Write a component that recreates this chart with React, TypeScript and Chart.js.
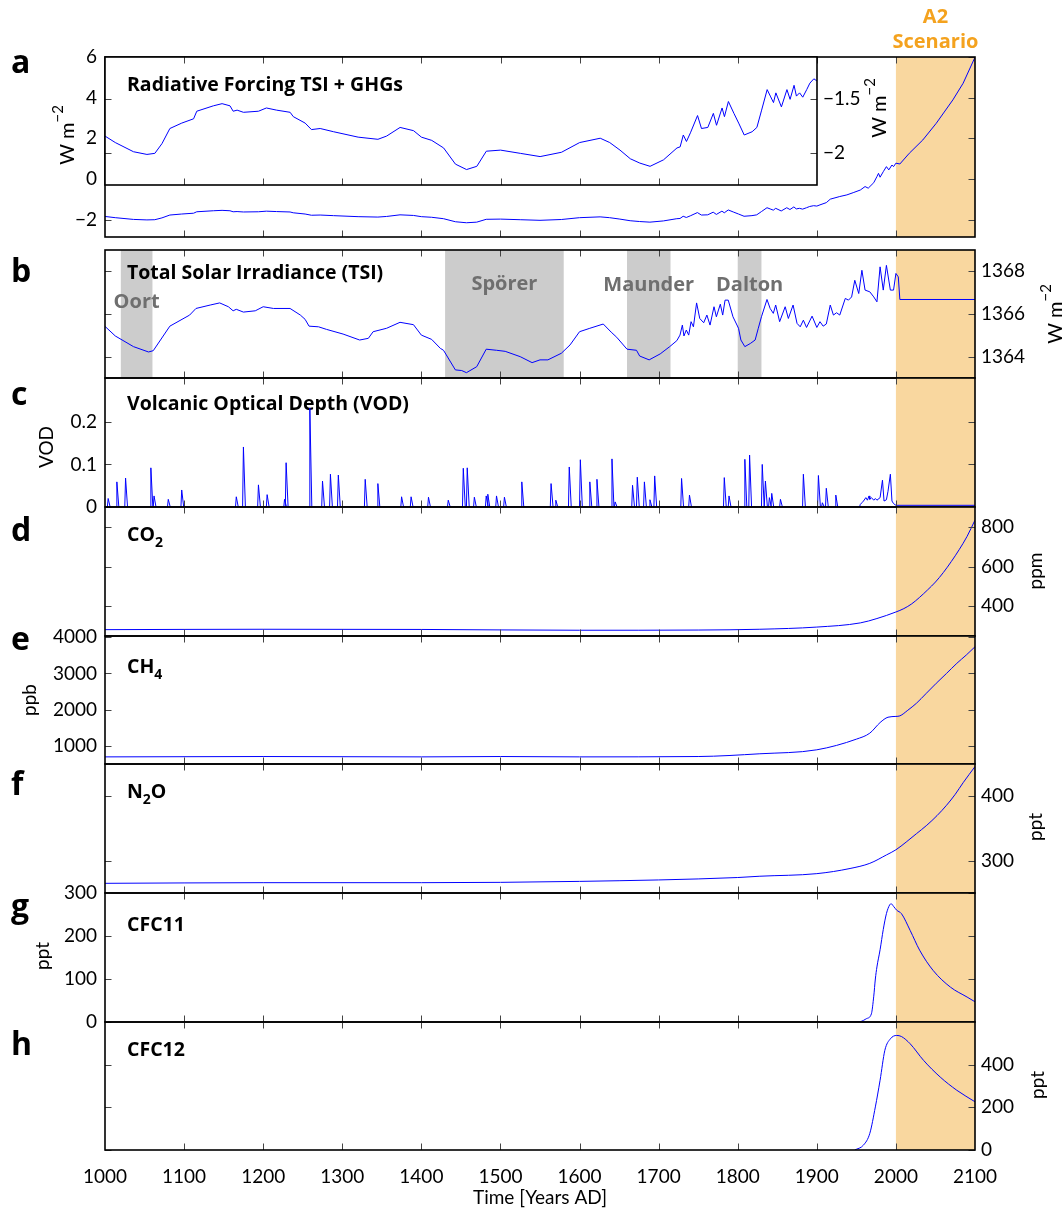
import React, { useEffect, useRef } from 'react';
import { Chart, registerables } from 'chart.js';

Chart.register(...registerables);

const PAGE_W = 1064;
const PAGE_H = 1214;
const FAMILY = 'Lato, "Open Sans", "DejaVu Sans", sans-serif';
const BOLD_FAMILY = '"Open Sans", Lato, "DejaVu Sans", sans-serif';
Chart.defaults.font.family = FAMILY;

// ---------------- axes / categories ----------------
const X_MIN = 1000;
const X_MAX = 2100;
const X_LABEL_YEARS = [1000, 1100, 1200, 1300, 1400, 1500, 1600, 1700, 1800, 1900, 2000, 2100];
const X_INNER_TICKS = [1100, 1200, 1300, 1400, 1500, 1600, 1700, 1800, 1900, 2000];
const INSET_X_MAX = 1900;
const INSET_INNER_TICKS = [1100, 1200, 1300, 1400, 1500, 1600, 1700, 1800];
const SCENARIO_START = 2000;
const SCENARIO_END = 2100;
const SCENARIO_TEXT = ['A2', 'Scenario'];

const MINIMA_NAMES = ['Oort', 'Spörer', 'Maunder', 'Dalton'];
const MINIMA_START = [1020, 1430, 1660, 1800];
const MINIMA_END = [1060, 1580, 1715, 1830];

// ---------------- a: radiative forcing TSI + GHGs (W m-2) ----------------
const forcingYears = [
  1000, 1013, 1036, 1053, 1063, 1072, 1082, 1097, 1112, 1116,
  1137, 1148, 1158, 1162, 1167, 1175, 1194, 1204, 1217, 1234,
  1238, 1253, 1261, 1272, 1289, 1320, 1345, 1356, 1373, 1390,
  1400, 1413, 1428, 1443, 1457, 1470, 1482, 1500, 1525, 1550,
  1577, 1600, 1626, 1638, 1651, 1664, 1676, 1689, 1706, 1723,
  1727, 1731, 1735, 1740, 1749, 1754, 1762, 1769, 1773, 1780,
  1783, 1788, 1795, 1801, 1808, 1818, 1824, 1830, 1837, 1841,
  1845, 1848, 1855, 1862, 1866, 1871, 1874, 1878, 1882, 1887,
  1891, 1896, 1900, 1904, 1912, 1917, 1929, 1938, 1946, 1955,
  1961, 1965, 1972, 1976, 1978, 1980, 1984, 1988, 1991, 1995,
  1997, 2000, 2005, 2017, 2034, 2051, 2072, 2085, 2100,
];
const forcingValues = [
  -1.84, -1.9, -1.985, -2.01, -2.0, -1.91, -1.77, -1.72, -1.68, -1.61,
  -1.56, -1.54, -1.56, -1.61, -1.6, -1.62, -1.61, -1.58, -1.6, -1.62,
  -1.66, -1.72, -1.78, -1.77, -1.8, -1.85, -1.87, -1.84, -1.76, -1.79,
  -1.85, -1.88, -1.95, -2.1, -2.15, -2.12, -1.98, -1.97, -2.0, -2.03,
  -1.99, -1.9, -1.86, -1.9, -1.97, -2.05, -2.09, -2.12, -2.06, -1.95,
  -1.94, -1.83, -1.89, -1.81, -1.65, -1.77, -1.76, -1.63, -1.74, -1.58,
  -1.66, -1.52, -1.63, -1.72, -1.83, -1.8, -1.76, -1.6, -1.41, -1.47,
  -1.53, -1.44, -1.57, -1.41, -1.5, -1.37, -1.47, -1.44, -1.48, -1.41,
  -1.35, -1.31, -1.33, -1.27, -1.16, -0.99, -0.86, -0.78, -0.67, -0.54,
  -0.37, -0.45, -0.18, 0.12, 0.28, 0.09, 0.36, 0.61, 0.45, 0.69,
  0.61, 0.78, 0.74, 1.27, 1.92, 2.74, 3.89, 4.71, 5.99,
];

// ---------------- b: total solar irradiance (W m-2) ----------------
const tsiYears = [
  1000, 1013, 1036, 1055, 1061, 1082, 1107, 1115, 1133, 1145,
  1156, 1162, 1166, 1175, 1190, 1200, 1213, 1234, 1247, 1253,
  1258, 1270, 1280, 1301, 1322, 1333, 1339, 1356, 1373, 1390,
  1400, 1413, 1424, 1428, 1443, 1451, 1457, 1470, 1482, 1495,
  1506, 1525, 1540, 1550, 1560, 1577, 1588, 1600, 1613, 1630,
  1640, 1647, 1660, 1672, 1676, 1688, 1702, 1714, 1723, 1727,
  1730, 1732, 1735, 1738, 1741, 1744, 1748, 1752, 1757, 1761,
  1765, 1770, 1773, 1778, 1781, 1784, 1788, 1794, 1801, 1804,
  1809, 1816, 1822, 1826, 1830, 1837, 1841, 1845, 1848, 1853,
  1860, 1864, 1870, 1875, 1879, 1883, 1887, 1894, 1900, 1904,
  1908, 1912, 1917, 1921, 1925, 1929, 1936, 1940, 1944, 1948,
  1953, 1957, 1961, 1967, 1972, 1976, 1980, 1984, 1988, 1993,
  1997, 2000, 2003, 2005, 2100,
];
const tsiValues = [
  1365.42, 1364.97, 1364.47, 1364.22, 1364.28, 1365.43, 1365.95, 1366.26, 1366.42, 1366.52,
  1366.34, 1366.15, 1366.22, 1366.09, 1366.15, 1366.34, 1366.26, 1366.26, 1365.95, 1365.75,
  1365.43, 1365.4, 1365.28, 1365.06, 1364.78, 1364.86, 1365.17, 1365.33, 1365.61, 1365.5,
  1365.01, 1364.81, 1364.39, 1364.3, 1363.38, 1363.35, 1363.25, 1363.53, 1364.35, 1364.3,
  1364.25, 1364.0, 1363.72, 1363.85, 1363.85, 1364.16, 1364.55, 1365.17, 1365.33, 1365.53,
  1365.15, 1364.91, 1364.35, 1364.3, 1364.03, 1363.85, 1364.13, 1364.47, 1364.75, 1365.01,
  1365.48, 1364.97, 1365.25, 1365.01, 1365.64, 1365.4, 1366.52, 1365.79, 1365.59, 1365.95,
  1365.48, 1366.34, 1365.87, 1366.46, 1365.95, 1366.65, 1366.65, 1365.87, 1365.33, 1364.78,
  1364.47, 1364.62, 1364.78, 1365.33, 1365.87, 1366.68, 1366.26, 1366.03, 1366.42, 1365.64,
  1366.34, 1365.79, 1366.42, 1365.56, 1365.4, 1365.71, 1365.37, 1365.9, 1365.37, 1365.64,
  1365.43, 1365.53, 1366.42, 1365.95, 1366.06, 1365.95, 1366.73, 1366.65, 1366.8, 1367.58,
  1366.96, 1368.05, 1367.12, 1367.04, 1366.8, 1366.57, 1368.21, 1367.12, 1368.28, 1367.12,
  1367.12, 1367.9, 1367.74, 1366.68, 1366.68,
];

// ---------------- c: volcanic optical depth ----------------
const vodEventYears = [
  1004, 1015, 1026, 1058, 1062, 1080, 1097, 1166, 1175, 1194,
  1205, 1227, 1229, 1259, 1275, 1285, 1295, 1329, 1345, 1375,
  1387, 1409, 1434, 1453, 1458, 1467, 1482, 1484, 1495, 1505,
  1527, 1564, 1570, 1587, 1601, 1613, 1622, 1641, 1645, 1667,
  1673, 1682, 1689, 1695, 1729, 1739, 1783, 1789, 1809, 1815,
  1831, 1835, 1840, 1843, 1854, 1883, 1902, 1907, 1912, 1924,
];
const vodEventPeaks = [
  0.02, 0.059, 0.068, 0.092, 0.026, 0.018, 0.04, 0.024, 0.141, 0.052,
  0.029, 0.018, 0.104, 0.232, 0.061, 0.077, 0.075, 0.065, 0.055, 0.024,
  0.024, 0.023, 0.016, 0.091, 0.092, 0.023, 0.026, 0.03, 0.026, 0.023,
  0.059, 0.055, 0.016, 0.094, 0.111, 0.059, 0.065, 0.113, 0.012, 0.051,
  0.07, 0.059, 0.017, 0.073, 0.067, 0.028, 0.069, 0.026, 0.112, 0.122,
  0.1, 0.061, 0.022, 0.032, 0.018, 0.077, 0.074, 0.01, 0.044, 0.028,
];
const vodRecentYears = [
  1955, 1957, 1959, 1962, 1964, 1966, 1967, 1969, 1972, 1974,
  1976, 1980, 1983, 1985, 1988, 1990, 1993, 1995, 1997, 2000, 2100,
];
const vodRecentValues = [
  0.006, 0.01, 0.014, 0.022, 0.016, 0.026, 0.018, 0.022, 0.016, 0.02,
  0.016, 0.022, 0.063, 0.014, 0.017, 0.037, 0.077, 0.014, 0.008, 0.004, 0.004,
];

// ---------------- d-h: greenhouse gases ----------------
const co2Years = [1000, 1200, 1400, 1600, 1750, 1828, 1900, 1955, 1976, 2000, 2010, 2020, 2030, 2040, 2050, 2060, 2070, 2080, 2090, 2100];
const co2Values = [282, 284, 283, 279, 280, 284, 295, 316, 338, 371, 388, 412, 445, 482, 522, 570, 625, 685, 752, 834];

const ch4Years = [1000, 1200, 1400, 1500, 1600, 1750, 1828, 1900, 1950, 1967, 1980, 1990, 2000, 2005, 2015, 2026, 2038, 2051, 2064, 2077, 2089, 2100];
const ch4Values = [690, 700, 690, 700, 690, 700, 776, 886, 1181, 1347, 1640, 1788, 1810, 1825, 1980, 2175, 2440, 2727, 3000, 3279, 3510, 3738];

const n2oYears = [1000, 1200, 1400, 1600, 1800, 1828, 1900, 1942, 1967, 1988, 2000, 2013, 2026, 2039, 2052, 2064, 2075, 2085, 2100];
const n2oValues = [265, 266, 266, 268, 274, 276, 280, 288, 296, 309, 317, 329, 342, 355, 370, 386, 403, 421, 446];

const cfc11Years = [1940, 1955, 1963, 1969, 1972, 1974, 1976, 1980, 1984, 1988, 1992, 1994, 1997, 2001, 2007, 2018, 2030, 2047, 2069, 2090, 2100];
const cfc11Values = [0, 1, 8, 19, 60, 100, 128, 168, 215, 252, 272, 275, 269, 260, 252, 213, 167, 120, 81, 58, 47];

const cfc12Years = [1948, 1959, 1967, 1974, 1980, 1986, 1993, 2001, 2007, 2018, 2035, 2056, 2077, 2100];
const cfc12Values = [0, 23, 78, 202, 327, 467, 521, 537, 532, 498, 420, 342, 280, 226];

// ---------------- helpers ----------------
type Pt = { x: number; y: number };
type Seg = { t: string; sub?: boolean; sup?: boolean };

const zip = (xs: number[], ys: number[]): Pt[] => xs.map((x, i) => ({ x, y: ys[i] }));

function buildVod(): Pt[] {
  const pts: Pt[] = [{ x: X_MIN, y: 0 }];
  vodEventYears.forEach((yr, i) => {
    pts.push({ x: yr - 1, y: 0 }, { x: yr, y: vodEventPeaks[i] }, { x: yr + 2.5, y: 0 });
  });
  pts.push({ x: vodRecentYears[0] - 1, y: 0 });
  return pts.concat(zip(vodRecentYears, vodRecentValues));
}

const fmt = (v: number) => (v < 0 ? '\u2212' + String(Math.abs(v)) : String(v));

const BLUE = '#0000ff';
const BAND = '#f9d79f';
const ORANGE = '#f4a21e';
const GRAY_BAND = '#cccccc';
const GRAY_TEXT = '#6f6f6f';
const TICK = '#444444';
const TICK_LEN = 6.5;
const AXW = 80;
const TITLE_SIZE = 19.5;

const WM2: Seg[] = [{ t: 'W m' }, { t: '\u22122', sup: true }];

type PanelCfg = {
  key: string;
  top: number;
  bottom: number;
  left: number;
  right: number;
  xMax: number;
  yMin: number;
  yMax: number;
  yTicks: number[];
  side: 'left' | 'right';
  points: Pt[];
  smooth?: boolean;
  xInner: number[];
  scenario?: boolean;
  scenarioLabel?: boolean;
  minima?: boolean;
  minimaLabelY?: number[];
  inset?: boolean;
  xAxis?: boolean;
  letter?: string;
  letterY?: number;
  title?: Seg[];
  titleY?: number;
  yTitle?: Seg[];
  yTitleX?: number;
  yTitleY?: number;
  yTitleSize?: number;
};

const PANELS: PanelCfg[] = [
  {
    key: 'a', top: 57, bottom: 237, left: 105, right: 975, xMax: X_MAX,
    yMin: -2.85, yMax: 6, yTicks: [-2, 0, 2, 4, 6], side: 'left',
    points: zip(forcingYears, forcingValues), xInner: X_INNER_TICKS,
    scenario: true, scenarioLabel: true, letter: 'a', letterY: 73,
    yTitle: WM2, yTitleX: 74, yTitleY: 135, yTitleSize: 20,
  },
  {
    key: 'a-inset', top: 57, bottom: 185, left: 105, right: 817, xMax: INSET_X_MAX,
    yMin: -2.293, yMax: -1.108, yTicks: [-2, -1.5], side: 'right',
    points: zip(forcingYears, forcingValues).filter((p) => p.x <= INSET_X_MAX), xInner: INSET_INNER_TICKS,
    inset: true, title: [{ t: 'Radiative Forcing TSI + GHGs' }], titleY: 91,
    yTitle: WM2, yTitleX: 886, yTitleY: 108, yTitleSize: 20,
  },
  {
    key: 'b', top: 250, bottom: 378, left: 105, right: 975, xMax: X_MAX,
    yMin: 1363, yMax: 1369, yTicks: [1364, 1366, 1368], side: 'right',
    points: zip(tsiYears, tsiValues), xInner: X_INNER_TICKS,
    scenario: true, minima: true, minimaLabelY: [308, 290, 291, 291],
    letter: 'b', letterY: 282, title: [{ t: 'Total Solar Irradiance (TSI)' }], titleY: 279,
    yTitle: WM2, yTitleX: 1062, yTitleY: 314, yTitleSize: 20,
  },
  {
    key: 'c', top: 378, bottom: 507, left: 105, right: 975, xMax: X_MAX,
    yMin: 0, yMax: 0.303, yTicks: [0, 0.1, 0.2], side: 'left',
    points: buildVod(), xInner: X_INNER_TICKS, scenario: true,
    letter: 'c', letterY: 405, title: [{ t: 'Volcanic Optical Depth (VOD)' }], titleY: 410,
    yTitle: [{ t: 'VOD' }], yTitleX: 53, yTitleY: 447, yTitleSize: 19,
  },
  {
    key: 'd', top: 507, bottom: 636, left: 105, right: 975, xMax: X_MAX,
    yMin: 250, yMax: 900, yTicks: [400, 600, 800], side: 'right',
    points: zip(co2Years, co2Values), smooth: true, xInner: X_INNER_TICKS, scenario: true,
    letter: 'd', letterY: 541, title: [{ t: 'CO' }, { t: '2', sub: true }], titleY: 541,
    yTitle: [{ t: 'ppm' }], yTitleX: 1042, yTitleY: 571, yTitleSize: 19,
  },
  {
    key: 'e', top: 636, bottom: 764, left: 105, right: 975, xMax: X_MAX,
    yMin: 493, yMax: 4036, yTicks: [1000, 2000, 3000, 4000], side: 'left',
    points: zip(ch4Years, ch4Values), smooth: true, xInner: X_INNER_TICKS, scenario: true,
    letter: 'e', letterY: 650, title: [{ t: 'CH' }, { t: '4', sub: true }], titleY: 673,
    yTitle: [{ t: 'ppb' }], yTitleX: 36, yTitleY: 700, yTitleSize: 19,
  },
  {
    key: 'f', top: 764, bottom: 893, left: 105, right: 975, xMax: X_MAX,
    yMin: 250, yMax: 450, yTicks: [300, 400], side: 'right',
    points: zip(n2oYears, n2oValues), smooth: true, xInner: X_INNER_TICKS, scenario: true,
    letter: 'f', letterY: 795, title: [{ t: 'N' }, { t: '2', sub: true }, { t: 'O' }], titleY: 798,
    yTitle: [{ t: 'ppt' }], yTitleX: 1042, yTitleY: 827, yTitleSize: 19,
  },
  {
    key: 'g', top: 893, bottom: 1022, left: 105, right: 975, xMax: X_MAX,
    yMin: 0, yMax: 300, yTicks: [0, 100, 200, 300], side: 'left',
    points: zip(cfc11Years, cfc11Values), smooth: true, xInner: X_INNER_TICKS, scenario: true,
    letter: 'g', letterY: 917, title: [{ t: 'CFC11' }], titleY: 931,
    yTitle: [{ t: 'ppt' }], yTitleX: 49, yTitleY: 956, yTitleSize: 19,
  },
  {
    key: 'h', top: 1022, bottom: 1150, left: 105, right: 975, xMax: X_MAX,
    yMin: 0, yMax: 600, yTicks: [0, 200, 400], side: 'right',
    points: zip(cfc12Years, cfc12Values), smooth: true, xInner: X_INNER_TICKS, scenario: true, xAxis: true,
    letter: 'h', letterY: 1055, title: [{ t: 'CFC12' }], titleY: 1056,
    yTitle: [{ t: 'ppt' }], yTitleX: 1044, yTitleY: 1085, yTitleSize: 19,
  },
];

function drawSegs(
  ctx: CanvasRenderingContext2D, segs: Seg[], x: number, y: number, size: number,
  weight: string, align: 'left' | 'center', color: string, family: string = FAMILY,
) {
  const font = (s: Seg) => `${weight} ${s.sub || s.sup ? Math.round(size * 0.74) : size}px ${family}`;
  let total = 0;
  for (const s of segs) {
    ctx.font = font(s);
    total += ctx.measureText(s.t).width;
  }
  let cx = align === 'center' ? x - total / 2 : x;
  ctx.fillStyle = color;
  ctx.textAlign = 'left';
  ctx.textBaseline = 'alphabetic';
  for (const s of segs) {
    ctx.font = font(s);
    const dy = s.sub ? size * 0.3 : s.sup ? -size * 0.55 : 0;
    ctx.fillText(s.t, cx, y + dy);
    cx += ctx.measureText(s.t).width;
  }
}

function drawRot(ctx: CanvasRenderingContext2D, segs: Seg[], x: number, y: number, size: number) {
  ctx.save();
  ctx.translate(x, y);
  ctx.rotate(-Math.PI / 2);
  drawSegs(ctx, segs, 0, 0, size, 'normal', 'center', '#000');
  ctx.restore();
}

function makeDeco(p: PanelCfg) {
  return {
    id: 'deco-' + p.key,
    beforeDatasetsDraw(chart: any) {
      const { ctx, chartArea: a } = chart;
      const xs = chart.scales.x;
      ctx.save();
      if (p.inset) {
        ctx.fillStyle = '#ffffff';
        ctx.fillRect(a.left, a.top, a.right - a.left, a.bottom - a.top);
      }
      if (p.scenario) {
        const x0 = xs.getPixelForValue(SCENARIO_START);
        const x1 = xs.getPixelForValue(SCENARIO_END);
        ctx.fillStyle = BAND;
        ctx.fillRect(x0, a.top, x1 - x0, a.bottom - a.top);
      }
      if (p.minima) {
        MINIMA_NAMES.forEach((name, i) => {
          const x0 = xs.getPixelForValue(MINIMA_START[i]);
          const x1 = xs.getPixelForValue(MINIMA_END[i]);
          ctx.fillStyle = GRAY_BAND;
          ctx.fillRect(x0, a.top, x1 - x0, a.bottom - a.top);
        });
        MINIMA_NAMES.forEach((name, i) => {
          const xc = (xs.getPixelForValue(MINIMA_START[i]) + xs.getPixelForValue(MINIMA_END[i])) / 2;
          drawSegs(ctx, [{ t: name }], xc, p.minimaLabelY![i], 20, 'bold', 'center', GRAY_TEXT, BOLD_FAMILY);
        });
      }
      if (p.title) drawSegs(ctx, p.title, a.left + 22, p.titleY!, TITLE_SIZE, 'bold', 'left', '#000', BOLD_FAMILY);
      ctx.restore();
    },
    afterDatasetsDraw(chart: any) {
      const { ctx, chartArea: a } = chart;
      const xs = chart.scales.x;
      const ys = chart.scales.y;
      ctx.save();
      ctx.strokeStyle = TICK;
      ctx.lineWidth = 1;
      ctx.beginPath();
      for (const v of p.xInner) {
        const px = Math.round(xs.getPixelForValue(v)) + 0.5;
        ctx.moveTo(px, a.top);
        ctx.lineTo(px, a.top + TICK_LEN);
        ctx.moveTo(px, a.bottom);
        ctx.lineTo(px, a.bottom - TICK_LEN);
      }
      for (const v of p.yTicks) {
        const py = Math.round(ys.getPixelForValue(v)) + 0.5;
        ctx.moveTo(a.left, py);
        ctx.lineTo(a.left + TICK_LEN, py);
        ctx.moveTo(a.right, py);
        ctx.lineTo(a.right - TICK_LEN, py);
      }
      ctx.stroke();
      ctx.strokeStyle = '#000';
      ctx.lineWidth = 1.6;
      ctx.strokeRect(a.left, a.top, a.right - a.left, a.bottom - a.top);

      if (p.letter) drawSegs(ctx, [{ t: p.letter }], 11, p.letterY!, 32, 'bold', 'left', '#000', BOLD_FAMILY);
      if (p.yTitle) drawRot(ctx, p.yTitle, p.yTitleX!, p.yTitleY!, p.yTitleSize || 19);
      if (p.scenarioLabel) {
        const xc = (xs.getPixelForValue(SCENARIO_START) + xs.getPixelForValue(SCENARIO_END)) / 2;
        drawSegs(ctx, [{ t: SCENARIO_TEXT[0] }], xc, 23, 20, 'bold', 'center', ORANGE, BOLD_FAMILY);
        drawSegs(ctx, [{ t: SCENARIO_TEXT[1] }], xc, 48, 20, 'bold', 'center', ORANGE, BOLD_FAMILY);
      }
      if (p.xAxis) {
        drawSegs(ctx, [{ t: 'Time [Years AD]' }], (a.left + a.right) / 2, 1204, 19, 'normal', 'center', '#000');
      }
      ctx.restore();
    },
  };
}

function buildConfig(p: PanelCfg): any {
  const tickFont = { family: FAMILY, size: 19 };
  const xScale: any = {
    type: 'linear',
    position: 'bottom',
    min: X_MIN,
    max: p.xMax,
    display: !!p.xAxis,
    afterBuildTicks: (s: any) => {
      s.ticks = X_LABEL_YEARS.map((v) => ({ value: v }));
    },
    grid: { display: false, drawTicks: false },
    border: { display: false },
    ticks: {
      autoSkip: false,
      maxRotation: 0,
      padding: 15,
      font: tickFont,
      color: '#000',
      callback: (v: number) => String(v),
    },
  };
  if (p.xAxis) {
    xScale.afterFit = (s: any) => {
      s.height = PAGE_H - p.bottom;
    };
  }
  return {
    type: 'line',
    data: {
      datasets: [
        {
          data: p.points,
          borderColor: BLUE,
          borderWidth: 1,
          pointRadius: 0,
          tension: 0,
          cubicInterpolationMode: p.smooth ? 'monotone' : 'default',
          fill: false,
        },
      ],
    },
    options: {
      animation: false,
      responsive: false,
      maintainAspectRatio: false,
      devicePixelRatio: 1,
      events: [],
      layout: {
        padding: {
          top: p.top,
          bottom: p.xAxis ? 0 : PAGE_H - p.bottom,
          left: p.side === 'left' ? p.left - AXW : p.left,
          right: p.side === 'right' ? PAGE_W - p.right - AXW : PAGE_W - p.right,
        },
      },
      plugins: { legend: { display: false }, tooltip: { enabled: false }, title: { display: false } },
      scales: {
        x: xScale,
        y: {
          type: 'linear',
          position: p.side,
          min: p.yMin,
          max: p.yMax,
          afterFit: (s: any) => {
            s.width = AXW;
          },
          afterBuildTicks: (s: any) => {
            s.ticks = p.yTicks.map((v) => ({ value: v }));
          },
          grid: { display: false, drawTicks: false },
          border: { display: false },
          ticks: {
            autoSkip: false,
            padding: p.side === 'left' ? 8 : 6,
            font: tickFont,
            color: '#000',
            callback: (v: number) => fmt(v),
          },
        },
      },
    },
    plugins: [makeDeco(p)],
  };
}

function PanelChart({ p }: { p: PanelCfg }) {
  const ref = useRef<HTMLCanvasElement>(null);
  useEffect(() => {
    if (!ref.current) return;
    const chart = new Chart(ref.current, buildConfig(p));
    return () => chart.destroy();
  }, [p]);
  return (
    <canvas
      ref={ref}
      width={PAGE_W}
      height={PAGE_H}
      style={{ position: 'absolute', left: 0, top: 0, width: PAGE_W, height: PAGE_H }}
    />
  );
}

export default function App() {
  return (
    <div
      style={{
        position: 'absolute',
        left: 0,
        top: 0,
        width: PAGE_W,
        height: PAGE_H,
        background: '#ffffff',
        overflow: 'hidden',
      }}
    >
      {PANELS.map((p) => (
        <PanelChart key={p.key} p={p} />
      ))}
    </div>
  );
}
